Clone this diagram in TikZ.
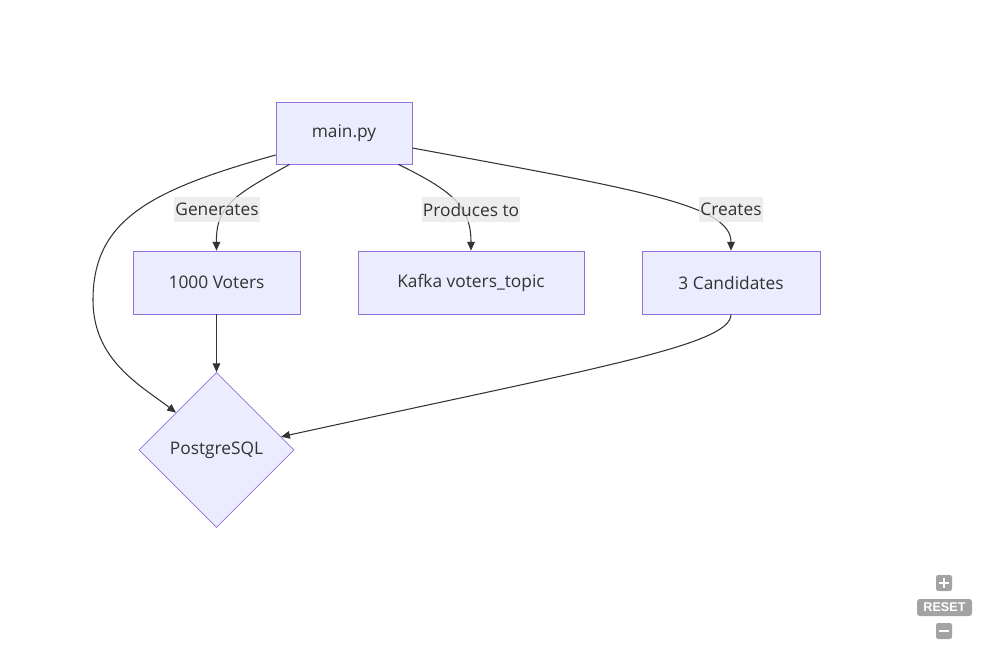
\documentclass[tikz,border=0pt]{standalone}
\usepackage{fontspec}
\setmainfont{Open Sans}
\newfontfamily\ctrlfont{Liberation Sans}
\usepackage{xcolor}
\usetikzlibrary{shapes.geometric,arrows.meta,calc}

\definecolor{nodefill}{HTML}{ECECFF}
\definecolor{nodeline}{HTML}{9370DB}
\definecolor{ink}{HTML}{333333}
\definecolor{labelbg}{HTML}{E8E8E8}
\definecolor{ctrl}{HTML}{A3A3A3}

\begin{document}
\begin{tikzpicture}[x=0.03cm, y=-0.03cm,
    box/.style={draw=nodeline, fill=nodefill, line width=0.6pt, text=ink,
        minimum height=1.89cm, inner sep=0pt, font=\fontsize{14.8}{17}\selectfont},
    db/.style={box, diamond, aspect=1, minimum width=4.65cm, minimum height=4.65cm},
    flow/.style={draw=ink, line width=0.9pt, -{Triangle[length=7.5pt, width=6.5pt]}},
    elabel/.style={fill=labelbg, fill opacity=0.8, text opacity=1, text=ink,
        inner xsep=1pt, inner ysep=0pt, minimum height=0.75cm,
        font=\fontsize{14.8}{17}\selectfont}]
    \useasboundingbox (0,0) rectangle (982,648);

    % nodes
    \node[box, minimum width=4.08cm, minimum height=1.86cm] (main) at (344,133) {main.py};
    \node[box, minimum width=5.01cm] (voters) at (216.5,282.5) {1000 Voters};
    \node[box, minimum width=6.78cm] (kafka) at (471,282.5) {Kafka voters\_topic};
    \node[box, minimum width=5.34cm] (cands) at (731,282.5) {3 Candidates};
    \node[db] (pg) at (216.5,450) {PostgreSQL};

    % edges
    \draw[flow] ($(main.south west)+(14,0)$) .. controls (235,195) and (216,205) .. (voters.north);
    \draw[flow] ($(main.south east)+(-14,0)$) .. controls (450,190) and (471,205) .. (kafka.north);
    \draw[flow] ($(main.east)+(0,15)$) .. controls (640,190) and (731,205) .. (cands.north);
    \draw[flow] ($(main.west)+(0,22)$) .. controls (150,190) and (93,220) .. (93,300)
        .. controls (93,360) and (140,385) .. ($(pg.north)!0.52!(pg.west)$);
    \draw[flow] (voters.south) -- (pg.north);
    \draw[flow] (cands.south) .. controls (731,345) and (600,367) .. ($(pg.north)!0.83!(pg.east)$);

    % edge labels
    \node[elabel] (lgen) at (217,209.5) {Generates};
    \node[elabel] (lprod) at (471,209.5) {Produces to};
    \node[elabel] (lcre) at (731,209.5) {Creates};

    % zoom controls
    \fill[ctrl, rounded corners=2pt] (936,575) rectangle (952,591);
    \draw[white, line width=2.4pt] (939,583) -- (949,583) (944,578) -- (944,588);
    \node[fill=ctrl, rounded corners=2.5pt, text=white, inner sep=0pt,
        minimum width=1.65cm, minimum height=0.51cm,
        font=\ctrlfont\fontsize{10.8}{11}\selectfont\bfseries] (reset) at (944.5,607.5) {RESET};
    \fill[ctrl, rounded corners=2pt] (936,623) rectangle (952,639);
    \draw[white, line width=2.4pt] (939,631) -- (949,631);
\end{tikzpicture}
\end{document}
